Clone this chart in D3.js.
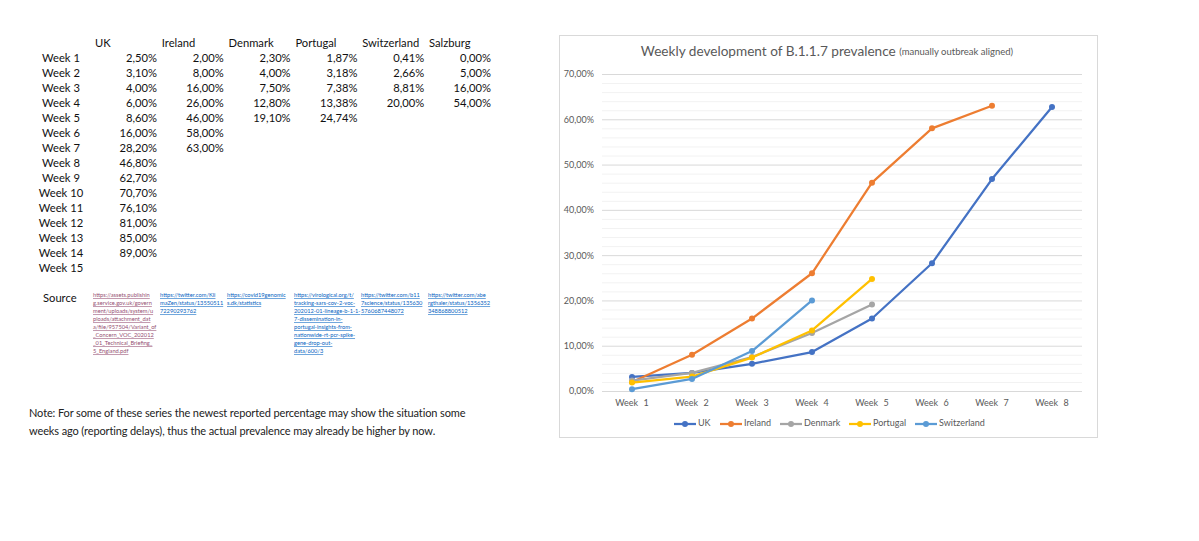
<!DOCTYPE html>
<html>
<head>
<meta charset="utf-8">
<title>B.1.1.7 prevalence</title>
<script src="https://cdn.jsdelivr.net/npm/d3@7"></script>
<style>
  body { margin: 0; background: #fff; }
  svg text { font-family: Lato, "Open Sans", sans-serif; }
</style>
</head>
<body>
<svg id="sheet" width="1199" height="541"></svg>
<script>
// ---- data (as in the sheet) ----
const weeks = d3.range(1, 16).map(function (i) { return "Week " + i; });
const countries = ["UK", "Ireland", "Denmark", "Portugal", "Switzerland", "Salzburg"];
const uk = [2.50, 3.10, 4.00, 6.00, 8.60, 16.00, 28.20, 46.80, 62.70, 70.70, 76.10, 81.00, 85.00, 89.00];
const ireland = [2.00, 8.00, 16.00, 26.00, 46.00, 58.00, 63.00];
const denmark = [2.30, 4.00, 7.50, 12.80, 19.10];
const portugal = [1.87, 3.18, 7.38, 13.38, 24.74];
const switzerland = [0.41, 2.66, 8.81, 20.00];
const salzburg = [0.00, 5.00, 16.00, 54.00];
const sources = [
  ["https://assets.publishin", "g.service.gov.uk/govern", "ment/uploads/system/u", "ploads/attachment_dat", "a/file/957504/Variant_of", "_Concern_VOC_202012", "_01_Technical_Briefing_", "5_England.pdf"],
  ["https://twitter.com/Kli", "maZen/status/13550511", "72290293762"],
  ["https://covid19genomic", "s.dk/statistics"],
  ["https://virological.org/t/", "tracking-sars-cov-2-voc-", "202012-01-lineage-b-1-1-", "7-dissemination-in-", "portugal-insights-from-", "nationwide-rt-pcr-spike-", "gene-drop-out-", "data/600/3"],
  ["https://twitter.com/b11", "7science/status/135630", "5760687448072"],
  ["https://twitter.com/abe", "rgthaler/status/1356352", "348868800512"]
];

// chart: UK is shifted one week (outbreak aligned)
const chartWeeks = weeks.slice(0, 8);
const chartSeries = [
  { name: "UK", color: "#4472C4", values: uk.slice(1, 9) },
  { name: "Ireland", color: "#ED7D31", values: ireland },
  { name: "Denmark", color: "#A5A5A5", values: denmark },
  { name: "Portugal", color: "#FFC000", values: portugal },
  { name: "Switzerland", color: "#5B9BD5", values: switzerland }
];

const svg = d3.select("#sheet");
const comma = d3.formatLocale({ decimal: ",", thousands: ".", grouping: [3], currency: ["", "€"] });
const pct = function (v) { return comma.format(".2f")(v) + "%"; };

/* ---- spreadsheet table ---- */
{
  const table = [uk, ireland, denmark, portugal, switzerland, salzburg];
  const colRight = d3.scaleLinear().domain([0, 5]).range([157, 491]);
  const rowY = d3.scaleLinear().domain([0, 14]).range([59, 269]);

  let g = svg.append("g").attr("font-size", 11.2).attr("fill", "#111");

  g.selectAll("text.head")
    .data(countries)
    .enter()
    .append("text")
    .attr("class", "head")
    .attr("x", function (d, i) { return colRight(i) - 62; })
    .attr("y", 44)
    .attr("dominant-baseline", "middle")
    .text(function (d) { return d; });

  g.selectAll("text.week")
    .data(weeks)
    .enter()
    .append("text")
    .attr("class", "week")
    .attr("x", 61)
    .attr("y", function (d, i) { return rowY(i); })
    .attr("text-anchor", "middle")
    .attr("dominant-baseline", "middle")
    .text(function (d) { return d; });

  table.forEach(function (col, j) {
    g.selectAll("text.c" + j)
      .data(col)
      .enter()
      .append("text")
      .attr("class", "c" + j)
      .attr("x", colRight(j))
      .attr("y", function (d, i) { return rowY(i); })
      .attr("text-anchor", "end")
      .attr("dominant-baseline", "middle")
      .text(function (d) { return pct(d); });
  });

  g.append("text").attr("x", 43).attr("y", 299)
    .attr("dominant-baseline", "middle").text("Source");

  const linkLeft = d3.scaleLinear().domain([0, 5]).range([93, 428]);
  sources.forEach(function (lines, j) {
    g.selectAll("text.s" + j)
      .data(lines)
      .enter()
      .append("text")
      .attr("class", "s" + j)
      .attr("x", linkLeft(j))
      .attr("y", function (d, i) { return 296 + i * 8; })
      .attr("font-size", 5.7)
      .attr("dominant-baseline", "middle")
      .attr("text-decoration", "underline")
      .attr("fill", j === 0 ? "#954F72" : "#0563C1")
      .text(function (d) { return d; });
  });

  const note = ["Note: For some of these series the newest reported percentage may show the situation some",
                "weeks ago (reporting delays), thus the actual prevalence may already be higher by now."];
  g.selectAll("text.note")
    .data(note)
    .enter()
    .append("text")
    .attr("class", "note")
    .attr("x", 29)
    .attr("y", function (d, i) { return 414 + i * 18; })
    .attr("dominant-baseline", "middle")
    .attr("font-size", 11)
    .attr("letter-spacing", -0.12)
    .attr("fill", "#222")
    .text(function (d) { return d; });
}

/* ---- line chart ---- */
{
  const left = 602, right = 1082, top = 74, bottom = 391;

  svg.append("rect")
    .attr("x", 559.5).attr("y", 35.5)
    .attr("width", 538).attr("height", 402)
    .attr("fill", "#fff").attr("stroke", "#d9d9d9");

  const x = d3.scaleBand().domain(chartWeeks).range([left, right]);
  const y = d3.scaleLinear().domain([0, 70]).range([bottom, top]);

  let g = svg.append("g");

  g.selectAll("line.minor")
    .data(d3.range(0, 70, 2).filter(function (v) { return v % 10 !== 0; }))
    .enter()
    .append("line")
    .attr("x1", left).attr("x2", right)
    .attr("y1", function (d) { return y(d) + 0.5; })
    .attr("y2", function (d) { return y(d) + 0.5; })
    .attr("stroke", "#f2f2f2");

  const yAxis = d3.axisLeft(y).tickValues(d3.range(0, 71, 10))
    .tickFormat(pct).tickSize(-(right - left)).tickPadding(8);
  const ya = g.append("g").attr("transform", "translate(" + left + ",0)").call(yAxis);
  ya.select(".domain").remove();
  ya.selectAll("line").attr("stroke", "#d9d9d9");
  ya.selectAll("text").attr("fill", "#595959").attr("font-size", 9)
    .attr("font-family", "Lato, 'Open Sans', sans-serif");

  const xAxis = d3.axisBottom(x).tickSize(0).tickPadding(9);
  const xa = g.append("g").attr("transform", "translate(0," + bottom + ")").call(xAxis);
  xa.select(".domain").remove();
  xa.selectAll("text").attr("fill", "#595959").attr("font-size", 9).attr("word-spacing", 3)
    .attr("font-family", "Lato, 'Open Sans', sans-serif");

  const cx = function (d, i) { return x(chartWeeks[i]) + x.bandwidth() / 2; };
  const line = d3.line().x(cx).y(function (d) { return y(d); });

  chartSeries.forEach(function (s) {
    g.append("path")
      .datum(s.values)
      .attr("d", line)
      .attr("fill", "none")
      .attr("stroke", s.color)
      .attr("stroke-width", 2.25)
      .attr("stroke-linejoin", "round");
    g.selectAll("circle.m" + s.name)
      .data(s.values)
      .enter()
      .append("circle")
      .attr("cx", cx)
      .attr("cy", function (d) { return y(d); })
      .attr("r", 3)
      .attr("fill", s.color);
  });

  const title = svg.append("text")
    .attr("x", 827).attr("y", 53)
    .attr("text-anchor", "middle")
    .attr("dominant-baseline", "middle")
    .attr("fill", "#595959")
    .attr("font-size", 13.6);
  title.append("tspan").text("Weekly development of B.1.1.7 prevalence ");
  title.append("tspan").attr("font-size", 9.5).text("(manually outbreak aligned)");

  // legend
  const legendX = [674, 720, 780, 849, 915];
  const lg = svg.append("g").selectAll("g")
    .data(chartSeries)
    .enter()
    .append("g")
    .attr("transform", function (d, i) { return "translate(" + legendX[i] + ",424)"; });
  lg.append("line").attr("x1", 0).attr("x2", 22)
    .attr("stroke", function (d) { return d.color; }).attr("stroke-width", 2.25);
  lg.append("circle").attr("cx", 11).attr("r", 3)
    .attr("fill", function (d) { return d.color; });
  lg.append("text").attr("x", 24)
    .attr("dominant-baseline", "middle")
    .attr("font-size", 9).attr("fill", "#595959")
    .text(function (d) { return d.name; });
}
</script>
</body>
</html>
